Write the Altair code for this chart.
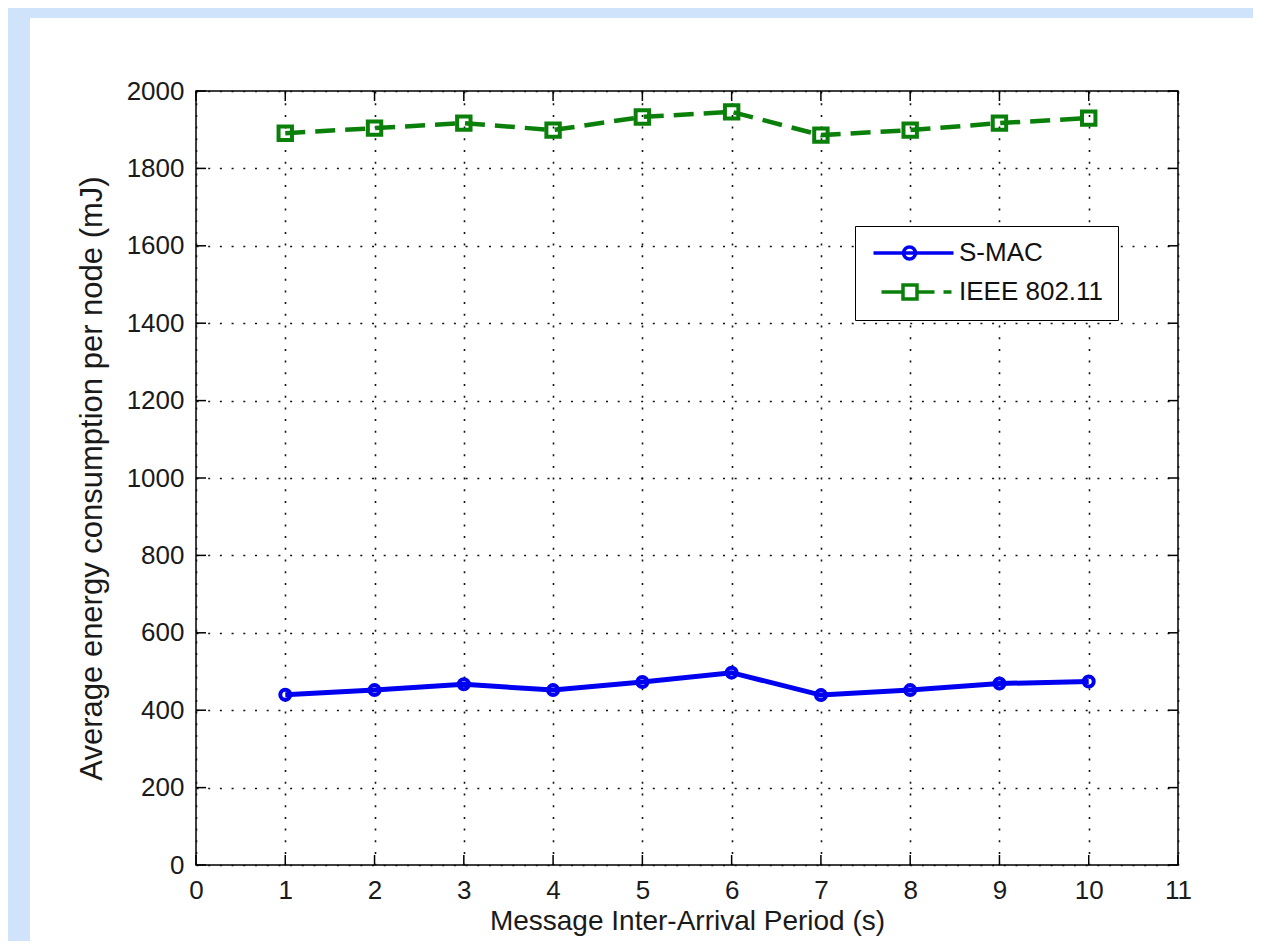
import altair as alt
import pandas as pd

# ---- data ----
periods = [1, 2, 3, 4, 5, 6, 7, 8, 9, 10]
smac_energy = [440, 452, 467, 452, 473, 497, 439, 452, 469, 474]
ieee_energy = [1891, 1904, 1917, 1899, 1933, 1946, 1886, 1899, 1917, 1930]
series_names = ["S-MAC", "IEEE 802.11"]
x_ticks = list(range(0, 12))
y_ticks = list(range(0, 2001, 200))

BLUE = "#0000f0"
GREEN = "#0a800a"
FONT = "Liberation Sans"

df = pd.DataFrame({
    "period": periods * 2,
    "energy": smac_energy + ieee_energy,
    "series": [series_names[0]] * len(periods) + [series_names[1]] * len(periods),
})
xt = pd.DataFrame({"period": x_ticks})
yt = pd.DataFrame({"energy": y_ticks})
one = pd.DataFrame({"k": [0]})

W, H = 982, 774
PAD_L, PAD_T, PAD_R, PAD_B = 188, 83, 75, 76

xs = alt.Scale(domain=[0, 11], nice=False, zero=False)
ys = alt.Scale(domain=[0, 2000], nice=False, zero=False)

x_axis = alt.Axis(values=x_ticks, format="d", title="Message Inter-Arrival Period (s)",
                  grid=True, ticks=False, domain=False, labelPadding=12,
                  titlePadding=4, labelFontSize=26, titleFontSize=28,
                  labelFlush=False)
y_axis = alt.Axis(values=y_ticks, format="d", title="Average energy consumption per node (mJ)",
                  grid=True, ticks=False, domain=False, labelPadding=12,
                  titlePadding=18, labelFontSize=26, titleFontSize=31)

X = alt.X("period:Q", scale=xs, axis=x_axis)
Y = alt.Y("energy:Q", scale=ys, axis=y_axis)

smac = df[df.series == "S-MAC"]
ieee = df[df.series == "IEEE 802.11"]

line_smac = alt.Chart(smac).mark_line(color=BLUE, strokeWidth=5).encode(x=X, y=Y)
line_ieee = alt.Chart(ieee).mark_line(color=GREEN, strokeWidth=4.5, strokeDash=[20, 10]).encode(x=X, y=Y)
pts_smac = alt.Chart(smac).mark_point(shape="circle", filled=False, color=BLUE,
                                      strokeWidth=4, size=100, opacity=1).encode(x=X, y=Y)
pts_ieee = alt.Chart(ieee).mark_point(shape="square", filled=False, color=GREEN,
                                      strokeWidth=4, size=180, opacity=1).encode(x=X, y=Y)

# legend-only layer (no marks drawn; entries come from explicit scale domains)
path_smac = "M-0.85,0L7.15,0M3.35,0A0.6,0.6 0 1,1 2.15,0A0.6,0.6 0 1,1 3.35,0Z"
path_ieee = "M-0.05,0L2.1,0M2.1,-0.7L3.5,-0.7L3.5,0.7L2.1,0.7Z M3.5,0L5.25,0M6.15,0L6.95,0"
leg = dict(orient="none", legendX=659, legendY=135, padding=14, title=None,
           strokeColor="black", fillColor="white", symbolSize=400,
           symbolStrokeWidth=3.5, labelFontSize=26, labelFont=FONT, labelColor="#111",
           labelOffset=64, rowPadding=12, cornerRadius=0, labelLimit=300)
legend_layer = alt.Chart(df).transform_filter("datum.energy < 0").mark_point(
    filled=False, opacity=1, strokeWidth=3.5).encode(
    x=X, y=Y,
    color=alt.Color("series:N", scale=alt.Scale(domain=series_names, range=[BLUE, GREEN]),
                    legend=alt.Legend(**leg)),
    shape=alt.Shape("series:N", scale=alt.Scale(domain=series_names, range=[path_smac, path_ieee]),
                    legend=alt.Legend(**leg)),
)

# inward MATLAB-style ticks
tick_bottom = alt.Chart(xt).mark_rule(color="black", strokeWidth=1.5).encode(
    x=X, y=alt.value(H), y2=alt.value(H - 10))
tick_top = alt.Chart(xt).mark_rule(color="black", strokeWidth=1.5).encode(
    x=X, y=alt.value(0), y2=alt.value(10))
tick_left = alt.Chart(yt).mark_rule(color="black", strokeWidth=1.5).encode(
    y=Y, x=alt.value(0), x2=alt.value(10))
tick_right = alt.Chart(yt).mark_rule(color="black", strokeWidth=1.5).encode(
    y=Y, x=alt.value(W), x2=alt.value(W - 10))

# light-blue slide border (left and top strips)
strip_left = alt.Chart(one).mark_rect(color="#cfe3fb").encode(
    x=alt.value(-PAD_L), x2=alt.value(-166), y=alt.value(-PAD_T), y2=alt.value(H + PAD_B))
strip_top = alt.Chart(one).mark_rect(color="#cfe3fb").encode(
    x=alt.value(-PAD_L), x2=alt.value(W + PAD_R), y=alt.value(-PAD_T), y2=alt.value(-73))

chart = alt.layer(
    line_smac, strip_left, strip_top,
    line_ieee, pts_smac, pts_ieee,
    tick_bottom, tick_top, tick_left, tick_right,
    legend_layer,
).resolve_scale(color="independent", shape="independent").properties(
    width=W, height=H,
    autosize=alt.AutoSizeParams(type="none"),
    padding={"left": PAD_L, "top": PAD_T, "right": PAD_R, "bottom": PAD_B},
    background="white",
).configure_view(
    stroke="black", strokeWidth=1.5, fill="white"
).configure_axis(
    labelFont=FONT, titleFont=FONT, labelColor="#1a1a1a", titleColor="#1a1a1a",
    titleFontWeight="normal", gridColor="#111", gridWidth=1.6, gridDash=[2, 9.7],
    gridOpacity=1,
)

chart.save("out.html", embed_options={"renderer": "svg", "actions": False})
